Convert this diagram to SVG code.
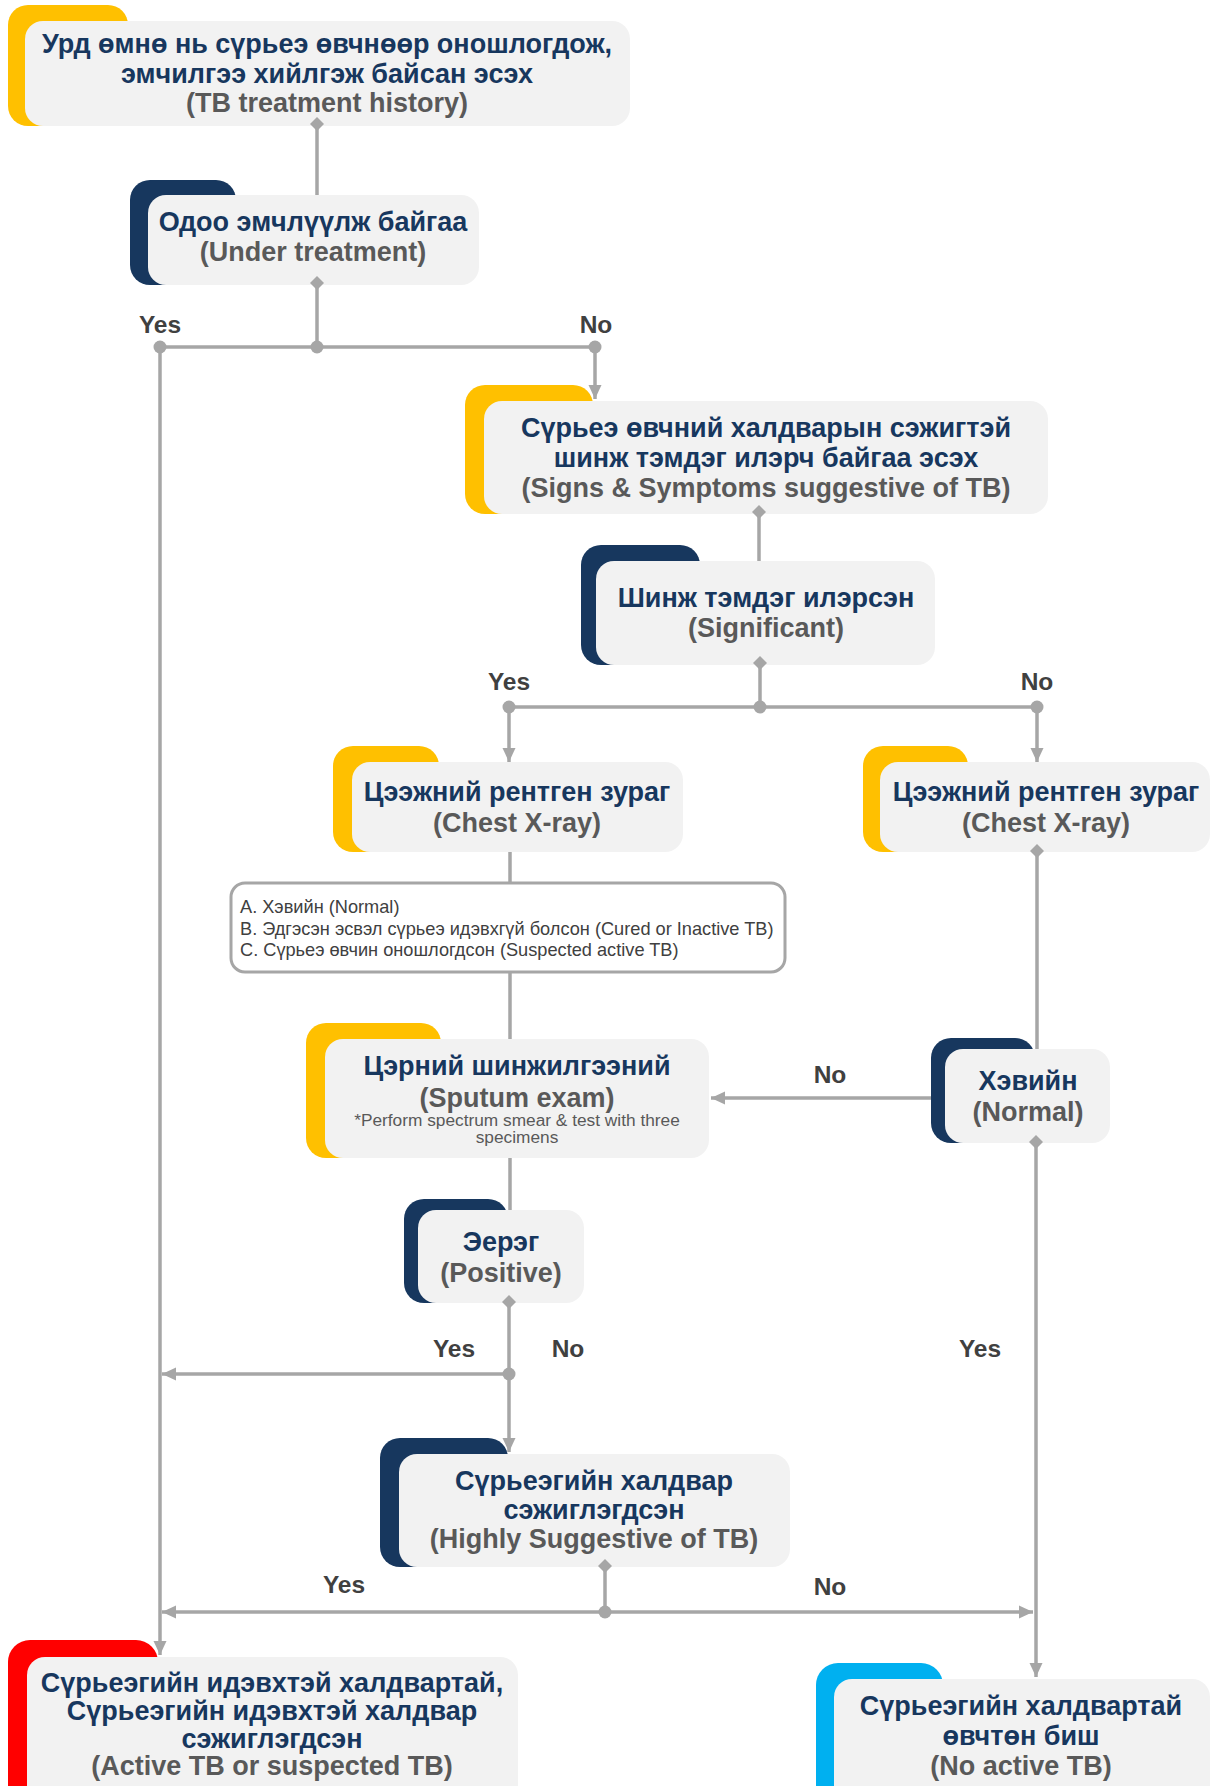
<svg xmlns="http://www.w3.org/2000/svg" xmlns:xlink="http://www.w3.org/1999/xlink" width="1211" height="1786" viewBox="0 0 1211 1786">
<defs>
<style>
.box{fill:#F2F2F2}
.yel{fill:#FFC000}
.nav{fill:#17375E}
.red{fill:#FF0000}
.cya{fill:#00B0F0}
text{font-family:"Liberation Sans",Arial,"DejaVu Sans",sans-serif}
.t{font-size:27px;font-weight:bold;fill:#17375E;text-anchor:middle}
.s{font-size:27px;font-weight:bold;fill:#595959;text-anchor:middle}
.n{font-size:17.3px;fill:#595959;text-anchor:middle}
.l{font-size:18.2px;fill:#404040}
.lab{font-size:24.5px;font-weight:bold;fill:#404040;text-anchor:middle}
.c{fill:none;stroke:#A6A6A6;stroke-width:3.5}
.m{fill:#A6A6A6}
</style>
<marker id="arr" markerUnits="userSpaceOnUse" markerWidth="15" markerHeight="14" refX="14" refY="7" orient="auto">
<path d="M0,0.5 L14,7 L0,13.5 z" fill="#A6A6A6"/>
</marker>
<path id="dia" d="M0,-7 L7,0 L0,7 L-7,0 z"/>
<circle id="dot" r="6.5"/>
</defs>
<rect width="1211" height="1786" fill="#FFFFFF"/>

<g id="node-history">
<rect class="yel" x="8" y="5" width="120" height="121" rx="20"/>
<rect class="box" x="25" y="21" width="605" height="105" rx="18"/>
<text class="t" x="327" y="53">Урд өмнө нь сүрьеэ өвчнөөр оношлогдож,</text>
<text class="t" x="327" y="83">эмчилгээ хийлгэж байсан эсэх</text>
<text class="s" x="327" y="112">(TB treatment history)</text>
</g>

<g id="node-under-treatment">
<rect class="nav" x="130" y="180" width="106" height="105" rx="20"/>
<rect class="box" x="148" y="195" width="331" height="90" rx="18"/>
<text class="t" x="313" y="231">Одоо эмчлүүлж байгаа</text>
<text class="s" x="313" y="261">(Under treatment)</text>
</g>

<g id="node-signs">
<rect class="yel" x="465" y="385" width="128" height="129" rx="20"/>
<rect class="box" x="484" y="401" width="564" height="113" rx="18"/>
<text class="t" x="766" y="437">Сүрьеэ өвчний халдварын сэжигтэй</text>
<text class="t" x="766" y="467">шинж тэмдэг илэрч байгаа эсэх</text>
<text class="s" x="766" y="497">(Signs &amp; Symptoms suggestive of TB)</text>
</g>

<g id="node-significant">
<rect class="nav" x="581" y="545" width="119" height="120" rx="20"/>
<rect class="box" x="596" y="561" width="339" height="104" rx="18"/>
<text class="t" x="766" y="607">Шинж тэмдэг илэрсэн</text>
<text class="s" x="766" y="637">(Significant)</text>
</g>

<g id="node-xray-left">
<rect class="yel" x="333" y="746" width="106" height="106" rx="20"/>
<rect class="box" x="352" y="762" width="331" height="90" rx="18"/>
<text class="t" x="517" y="801">Цээжний рентген зураг</text>
<text class="s" x="517" y="832">(Chest X-ray)</text>
</g>

<g id="node-xray-right">
<rect class="yel" x="863" y="746" width="105" height="106" rx="20"/>
<rect class="box" x="880" y="762" width="330" height="90" rx="18"/>
<text class="t" x="1046" y="801">Цээжний рентген зураг</text>
<text class="s" x="1046" y="832">(Chest X-ray)</text>
</g>

<g id="node-xray-results">
<rect x="231" y="883" width="554" height="89" rx="14" fill="#FFFFFF" stroke="#A6A6A6" stroke-width="3"/>
<text class="l" x="240" y="913">A. Хэвийн (Normal)</text>
<text class="l" x="240" y="935">B. Эдгэсэн эсвэл сүрьеэ идэвхгүй болсон (Cured or Inactive TB)</text>
<text class="l" x="240" y="956">C. Сүрьеэ өвчин  оношлогдсон (Suspected active TB)</text>
</g>

<g id="node-sputum">
<rect class="yel" x="306" y="1023" width="135" height="135" rx="20"/>
<rect class="box" x="325" y="1039" width="384" height="119" rx="18"/>
<text class="t" x="517" y="1075">Цэрний шинжилгээний</text>
<text class="s" x="517" y="1107">(Sputum exam)</text>
<text class="n" x="517" y="1126">*Perform spectrum smear &amp; test with three</text>
<text class="n" x="517" y="1143">specimens</text>
</g>

<g id="node-normal">
<rect class="nav" x="931" y="1038" width="104" height="105" rx="20"/>
<rect class="box" x="945" y="1049" width="165" height="94" rx="18"/>
<text class="t" x="1028" y="1090">Хэвийн</text>
<text class="s" x="1028" y="1121">(Normal)</text>
</g>

<g id="node-positive">
<rect class="nav" x="404" y="1199" width="104" height="104" rx="20"/>
<rect class="box" x="418" y="1210" width="166" height="93" rx="18"/>
<text class="t" x="501" y="1251">Эерэг</text>
<text class="s" x="501" y="1282">(Positive)</text>
</g>

<g id="node-highly">
<rect class="nav" x="380" y="1438" width="128" height="129" rx="20"/>
<rect class="box" x="399" y="1454" width="391" height="113" rx="18"/>
<text class="t" x="594" y="1490">Сүрьеэгийн халдвар</text>
<text class="t" x="594" y="1519">сэжиглэгдсэн</text>
<text class="s" x="594" y="1548">(Highly Suggestive of TB)</text>
</g>

<g id="node-active">
<rect class="red" x="8" y="1640" width="150" height="170" rx="22"/>
<rect class="box" x="27" y="1657" width="491" height="153" rx="18"/>
<text class="t" x="272" y="1692">Сүрьеэгийн идэвхтэй халдвартай,</text>
<text class="t" x="272" y="1720">Сүрьеэгийн идэвхтэй халдвар</text>
<text class="t" x="272" y="1748">сэжиглэгдсэн</text>
<text class="s" x="272" y="1775">(Active TB or suspected TB)</text>
</g>

<g id="node-no-active">
<rect class="cya" x="816" y="1663" width="127" height="150" rx="22"/>
<rect class="box" x="834" y="1679" width="376" height="134" rx="18"/>
<text class="t" x="1021" y="1715">Сүрьеэгийн халдвартай</text>
<text class="t" x="1021" y="1745">өвчтөн биш</text>
<text class="s" x="1021" y="1775">(No active TB)</text>
</g>

<g id="connectors">
<path class="c" d="M317,126 V195"/>
<path class="c" d="M317,285 V347"/>
<path class="c" d="M160,347 H595"/>
<path class="c" d="M160,347 V1655" marker-end="url(#arr)"/>
<path class="c" d="M595,347 V399" marker-end="url(#arr)"/>
<path class="c" d="M759,514 V561"/>
<path class="c" d="M760,665 V707"/>
<path class="c" d="M509,707 H1037"/>
<path class="c" d="M509,707 V762" marker-end="url(#arr)"/>
<path class="c" d="M1037,707 V762" marker-end="url(#arr)"/>
<path class="c" d="M510,852 V882"/>
<path class="c" d="M510,973 V1039"/>
<path class="c" d="M510,1158 V1210"/>
<path class="c" d="M1037,852 V1049"/>
<path class="c" d="M931,1098 H711" marker-end="url(#arr)"/>
<path class="c" d="M1036,1143 V1677" marker-end="url(#arr)"/>
<path class="c" d="M509,1303 V1452" marker-end="url(#arr)"/>
<path class="c" d="M509,1374 H162" marker-end="url(#arr)"/>
<path class="c" d="M605,1567 V1612"/>
<path class="c" d="M605,1612 H162" marker-end="url(#arr)"/>
<path class="c" d="M605,1612 H1033" marker-end="url(#arr)"/>
<g class="m">
<use xlink:href="#dia" x="317" y="124"/>
<use xlink:href="#dia" x="317" y="283"/>
<use xlink:href="#dot" x="317" y="347"/>
<use xlink:href="#dot" x="160" y="347"/>
<use xlink:href="#dot" x="595" y="347"/>
<use xlink:href="#dia" x="759" y="512"/>
<use xlink:href="#dia" x="760" y="663"/>
<use xlink:href="#dot" x="760" y="707"/>
<use xlink:href="#dot" x="509" y="707"/>
<use xlink:href="#dot" x="1037" y="707"/>
<use xlink:href="#dia" x="1037" y="851"/>
<use xlink:href="#dia" x="1036" y="1142"/>
<use xlink:href="#dia" x="509" y="1302"/>
<use xlink:href="#dot" x="509" y="1374"/>
<use xlink:href="#dia" x="605" y="1566"/>
<use xlink:href="#dot" x="605" y="1612"/>
</g>
<g id="labels">
<text class="lab" x="160" y="333">Yes</text>
<text class="lab" x="596" y="333">No</text>
<text class="lab" x="509" y="690">Yes</text>
<text class="lab" x="1037" y="690">No</text>
<text class="lab" x="830" y="1083">No</text>
<text class="lab" x="454" y="1357">Yes</text>
<text class="lab" x="568" y="1357">No</text>
<text class="lab" x="980" y="1357">Yes</text>
<text class="lab" x="344" y="1593">Yes</text>
<text class="lab" x="830" y="1595">No</text>
</g>
</g>
</svg>
